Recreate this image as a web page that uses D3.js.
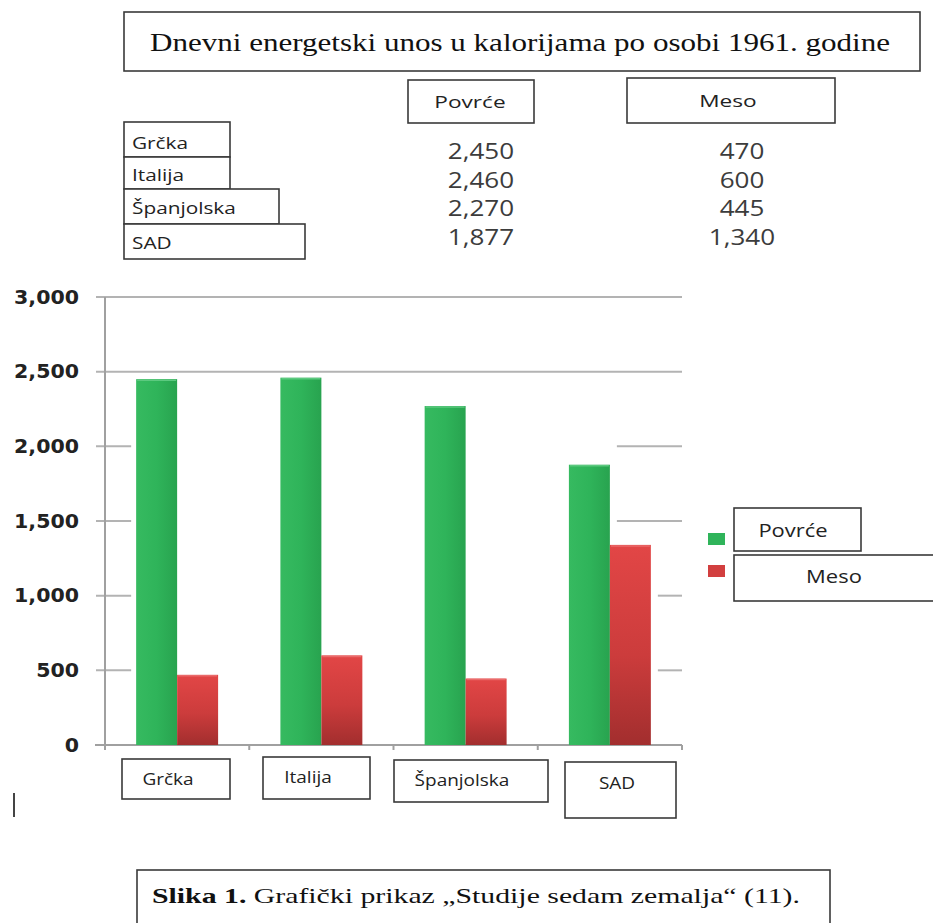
<!DOCTYPE html>
<html>
<head>
<meta charset="utf-8">
<script src="https://cdn.jsdelivr.net/npm/d3@7"></script>
<style>
  html, body { margin: 0; padding: 0; background: #fff; }
  svg { display: block; }
</style>
</head>
<body>
<svg id="chart" width="933" height="923"></svg>
<script>
// ---- data ----
const titleText = "Dnevni energetski unos u kalorijama po osobi 1961. godine";
const categories = ["Grčka", "Italija", "Španjolska", "SAD"];
const seriesNames = ["Povrće", "Meso"];
const povrce = [2450, 2460, 2270, 1877];
const meso = [470, 600, 445, 1340];
const yTicks = [0, 500, 1000, 1500, 2000, 2500, 3000];
const captionBold = "Slika 1.";
const captionRest = " Grafički prikaz  „Studije sedam zemalja“ (11).";

const svg = d3.select("#chart");
svg.append("rect").attr("width", 933).attr("height", 923).attr("fill", "#fff");

// horizontal stretch helper (reference image is widened)
function stretch(sel, factor) {
  sel.each(function () {
    const w = this.getComputedTextLength();
    d3.select(this).attr("textLength", w * factor).attr("lengthAdjust", "spacingAndGlyphs");
  });
  return sel;
}

const defs = svg.append("defs");
const gG = defs.append("linearGradient").attr("id", "gGreen").attr("x1", 0).attr("x2", 1).attr("y1", 0).attr("y2", 0);
gG.append("stop").attr("offset", "0%").attr("stop-color", "#36ba60");
gG.append("stop").attr("offset", "50%").attr("stop-color", "#2fb45a");
gG.append("stop").attr("offset", "100%").attr("stop-color", "#28a34f");
const gR = defs.append("linearGradient").attr("id", "gRed").attr("x1", 0).attr("x2", 0).attr("y1", 0).attr("y2", 1);
gR.append("stop").attr("offset", "0%").attr("stop-color", "#e24646");
gR.append("stop").attr("offset", "55%").attr("stop-color", "#cc3c3c");
gR.append("stop").attr("offset", "100%").attr("stop-color", "#a22e2e");
const fills = ["url(#gGreen)", "url(#gRed)"];
const swatch = ["#2fb45a", "#d23f3f"];

const boxStroke = "#3a3a3a";
function box(x, y, w, h) {
  svg.append("rect").attr("x", x).attr("y", y).attr("width", w).attr("height", h)
    .attr("fill", "#fff").attr("stroke", boxStroke).attr("stroke-width", 1.6);
}

// ---- title box ----
box(124, 12, 796, 59);
svg.append("text").attr("x", 520).attr("y", 51).attr("text-anchor", "middle")
  .attr("font-family", "Liberation Serif, Times New Roman, serif").attr("font-size", 26)
  .attr("fill", "#111").attr("textLength", 740).attr("lengthAdjust", "spacingAndGlyphs")
  .text(titleText);

// ---- data table ----
const tableFont = "Open Sans, Noto Sans, sans-serif";
const colCenters = [470, 728];
const headBase = [108, 107];
const colBoxes = [[408, 80, 126, 43], [627, 78, 208, 45]];
seriesNames.forEach((s, i) => {
  const b = colBoxes[i];
  box(b[0], b[1], b[2], b[3]);
  stretch(svg.append("text").attr("x", colCenters[i]).attr("y", headBase[i])
    .attr("text-anchor", "middle").attr("font-family", tableFont).attr("font-size", 17)
    .attr("fill", "#222").text(s), 1.33);
});
const rowTops = [122, 157, 189, 224, 259];
const rowWidths = [106, 106, 155, 181];
const rowBase = [149, 181, 214, 249];
const fmt = d3.format(",");
categories.forEach((c, i) => {
  box(124, rowTops[i], rowWidths[i], rowTops[i + 1] - rowTops[i]);
  stretch(svg.append("text").attr("x", 132).attr("y", rowBase[i])
    .attr("font-family", tableFont).attr("font-size", 16).attr("fill", "#222").text(c), 1.3);
});
const rowValBase = [159, 188, 216, 245];
[povrce, meso].forEach((arr, j) => {
  arr.forEach((v, i) => {
    stretch(svg.append("text").attr("x", j === 0 ? 481 : 742).attr("y", rowValBase[i])
      .attr("text-anchor", "middle").attr("font-family", tableFont).attr("font-size", 21)
      .attr("font-weight", 500).attr("fill", "#3c3c3c").text(fmt(v)), 1.24);
  });
});

// ---- chart ----
const x0 = d3.scaleBand().domain(categories).range([105, 682]).paddingInner(0).paddingOuter(0);
const x1 = d3.scaleBand().domain(seriesNames).range([0, x0.bandwidth()]).paddingInner(0).paddingOuter(0.76);
const y = d3.scaleLinear().domain([0, 3000]).range([745, 297]);
const seriesVals = [povrce, meso];

// gridlines
const gridColor = "#b3b3b3";
const maxAll = d3.max(povrce.concat(meso));
const firstBarX = x0(categories[0]) + x1(seriesNames[0]);
const lastCat = categories[categories.length - 1];
yTicks.filter(t => t > 0).forEach(t => {
  const yy = y(t);
  if (t > maxAll) {
    svg.append("line").attr("x1", 96).attr("x2", 682).attr("y1", yy).attr("y2", yy)
      .attr("stroke", gridColor).attr("stroke-width", 2);
  } else {
    svg.append("line").attr("x1", 96).attr("x2", firstBarX - 5).attr("y1", yy).attr("y2", yy)
      .attr("stroke", gridColor).attr("stroke-width", 2);
    const li = categories.length - 1;
    const reaching = meso[li] >= t ? 1 : 0;
    const startX = x0(lastCat) + x1(seriesNames[reaching]) + x1.bandwidth() + 7;
    svg.append("line").attr("x1", startX).attr("x2", 682).attr("y1", yy).attr("y2", yy)
      .attr("stroke", gridColor).attr("stroke-width", 2);
  }
});

// axes
svg.append("line").attr("x1", 105).attr("x2", 105).attr("y1", 297).attr("y2", 750)
  .attr("stroke", "#a0a0a0").attr("stroke-width", 2);
svg.append("line").attr("x1", 95).attr("x2", 682).attr("y1", 745).attr("y2", 745)
  .attr("stroke", "#a0a0a0").attr("stroke-width", 2);
categories.forEach(c => {
  const xx = x0(c) + x0.bandwidth();
  svg.append("line").attr("x1", xx).attr("x2", xx).attr("y1", 745).attr("y2", 750)
    .attr("stroke", "#a0a0a0").attr("stroke-width", 2);
});

// y tick labels
const yAxis = d3.axisLeft(y).tickValues(yTicks).tickFormat(d3.format(",")).tickSize(0).tickPadding(0);
const yg = svg.append("g").attr("transform", "translate(79,0)").call(yAxis);
yg.select(".domain").remove();
stretch(yg.selectAll("text").attr("font-family", "DejaVu Sans, Verdana, sans-serif")
  .attr("font-weight", "bold").attr("font-size", 19).attr("fill", "#222"), 1.08);

// bars
const groups = svg.append("g").selectAll("g").data(categories).join("g")
  .attr("transform", c => `translate(${x0(c)},0)`);
groups.selectAll("rect").data((c, i) => seriesNames.map((s, j) => ({ s, j, v: seriesVals[j][i] })))
  .join("rect")
  .attr("x", d => x1(d.s)).attr("width", x1.bandwidth())
  .attr("y", d => y(d.v)).attr("height", d => y(0) - y(d.v))
  .attr("fill", d => fills[d.j]);
groups.selectAll("line.hl").data((c, i) => seriesNames.map((s, j) => ({ s, j, v: seriesVals[j][i] })))
  .join("line").attr("class", "hl")
  .attr("x1", d => x1(d.s) + 1).attr("x2", d => x1(d.s) + x1.bandwidth() - 1)
  .attr("y1", d => y(d.v) + 1).attr("y2", d => y(d.v) + 1)
  .attr("stroke", d => d.j === 0 ? "#5cc97f" : "#ea6a6a").attr("stroke-width", 1.5);

// x category label boxes
const labelBoxes = [[122, 759, 108, 40], [263, 757, 107, 42], [394, 760, 154, 42], [565, 762, 111, 56]];
const labelTextX = [168, 308, 462, 617];
const labelTextY = [785, 783, 786, 789];
categories.forEach((c, i) => {
  const b = labelBoxes[i];
  box(b[0], b[1], b[2], b[3]);
  stretch(svg.append("text").attr("x", labelTextX[i]).attr("y", labelTextY[i])
    .attr("text-anchor", "middle").attr("font-family", tableFont).attr("font-size", 16.5)
    .attr("fill", "#222").text(c), 1.15);
});

// legend
const legendSw = [533, 565];
const legendBoxes = [[734, 508, 127, 43], [734, 555, 200, 46]];
const legendTextX = [793, 834];
const legendTextY = [537, 583];
seriesNames.forEach((s, i) => {
  svg.append("rect").attr("x", 708).attr("y", legendSw[i]).attr("width", 17).attr("height", 12)
    .attr("fill", swatch[i]);
  const b = legendBoxes[i];
  box(b[0], b[1], b[2], b[3]);
  stretch(svg.append("text").attr("x", legendTextX[i]).attr("y", legendTextY[i])
    .attr("text-anchor", "middle").attr("font-family", tableFont).attr("font-size", 18)
    .attr("fill", "#222").text(s), 1.22);
});

// stray mark
svg.append("rect").attr("x", 13).attr("y", 793).attr("width", 2).attr("height", 24).attr("fill", "#444");

// caption
box(137, 870, 693, 60);
const cap = svg.append("text").attr("x", 152).attr("y", 903)
  .attr("font-family", "Liberation Serif, Times New Roman, serif").attr("font-size", 22).attr("fill", "#111")
  .attr("textLength", 648).attr("lengthAdjust", "spacingAndGlyphs");
cap.append("tspan").attr("font-weight", "bold").text(captionBold);
cap.append("tspan").text(captionRest);
</script>
</body>
</html>
